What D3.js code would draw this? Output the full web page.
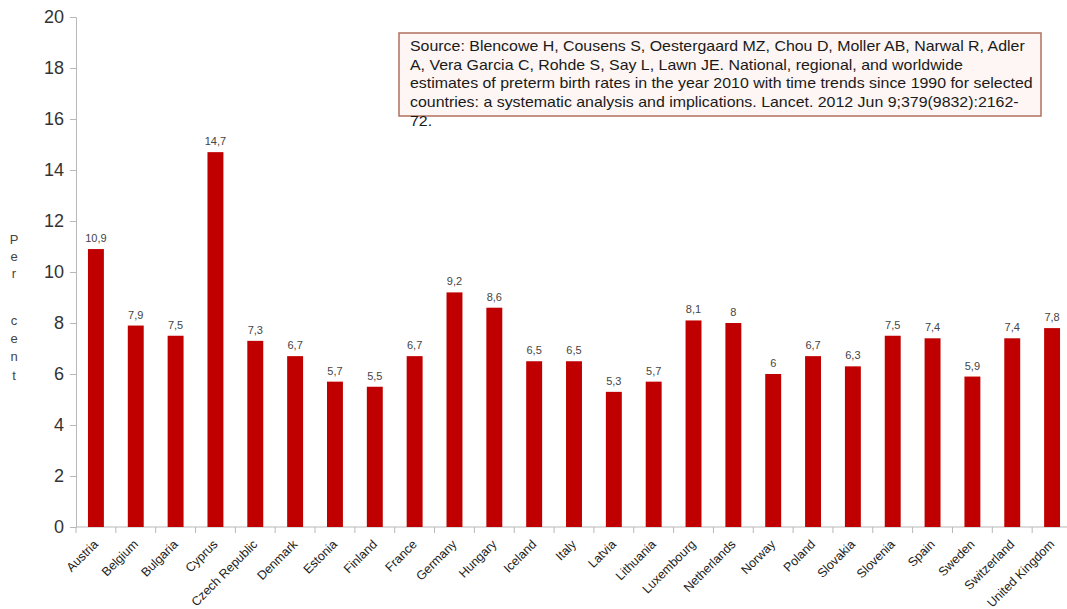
<!DOCTYPE html>
<html>
<head>
<meta charset="utf-8">
<script src="https://cdn.jsdelivr.net/npm/d3@7"></script>
<style>
  html, body { margin: 0; padding: 0; background: #fff; }
  svg { display: block; font-family: "Liberation Sans", Arial, sans-serif; }
</style>
</head>
<body>
<svg id="chart" width="1067" height="609"></svg>
<script>
const countries = ["Austria","Belgium","Bulgaria","Cyprus","Czech Republic","Denmark","Estonia","Finland","France","Germany","Hungary","Iceland","Italy","Latvia","Lithuania","Luxembourg","Netherlands","Norway","Poland","Slovakia","Slovenia","Spain","Sweden","Switzerland","United Kingdom"];
const rates = [10.9,7.9,7.5,14.7,7.3,6.7,5.7,5.5,6.7,9.2,8.6,6.5,6.5,5.3,5.7,8.1,8,6,6.7,6.3,7.5,7.4,5.9,7.4,7.8];
const yTicks = [0,2,4,6,8,10,12,14,16,18,20];
const yLabelLetters = ["P","e","r","","c","e","n","t"];
const sourceLines = [
  "Source: Blencowe H, Cousens S, Oestergaard MZ, Chou D, Moller AB, Narwal R, Adler",
  "A, Vera Garcia C, Rohde S, Say L, Lawn JE. National, regional, and worldwide",
  "estimates of preterm birth rates in the year 2010 with time trends since 1990 for selected",
  "countries: a systematic analysis and implications. Lancet. 2012 Jun 9;379(9832):2162-",
  "72."
];

(function () {
const svg = d3.select("#chart");
const pL = 76, pR = 1072, pT = 17, pB = 527;

const x = d3.scaleBand().domain(countries).range([pL, pR]).paddingInner(0.6).paddingOuter(0.3);
const y = d3.scaleLinear().domain([0, 20]).range([pB, pT]);
const axisColor = "#b8b8b8";

// Y axis
const yAxis = svg.append("g").attr("transform", `translate(${pL},0)`)
  .call(d3.axisLeft(y).tickValues(yTicks).tickSize(6).tickPadding(6).tickFormat(d3.format("d")));
yAxis.select(".domain").attr("stroke", axisColor);
yAxis.selectAll(".tick line").attr("stroke", axisColor);
yAxis.selectAll(".tick text").attr("fill", "#333").attr("font-size", 18)
  .attr("font-family", "'Liberation Sans', Arial, sans-serif");

// X axis line
svg.append("line").attr("x1", pL).attr("x2", pR).attr("y1", pB).attr("y2", pB)
  .attr("stroke", axisColor);
// X ticks at band boundaries
const boundaries = d3.range(countries.length + 1).map(i => pL + i * (pR - pL) / countries.length);
svg.append("g").selectAll("line").data(boundaries).join("line")
  .attr("x1", d => d).attr("x2", d => d).attr("y1", pB).attr("y2", pB + 6)
  .attr("stroke", axisColor);

// Bars
svg.append("g").selectAll("rect").data(countries).join("rect")
  .attr("x", d => x(d))
  .attr("width", x.bandwidth())
  .attr("y", (d, i) => y(rates[i]))
  .attr("height", (d, i) => y(0) - y(rates[i]))
  .attr("fill", "#c00000");

// Value labels
const fmt = v => String(v).replace(".", ",");
svg.append("g").selectAll("text").data(countries).join("text")
  .attr("x", d => x(d) + x.bandwidth() / 2)
  .attr("y", (d, i) => y(rates[i]) - 7)
  .attr("text-anchor", "middle")
  .attr("font-size", 11)
  .attr("fill", "#444")
  .text((d, i) => fmt(rates[i]));

// X labels
svg.append("g").selectAll("text").data(countries).join("text")
  .attr("transform", d => `translate(${x(d) + x.bandwidth() / 2 + 3},${pB + 18}) rotate(-45)`)
  .attr("text-anchor", "end")
  .attr("font-size", 12.5)
  .attr("fill", "#222")
  .text(d => d);

// Y axis label (stacked letters)
const letterY = [241, 258, 275, 0, 322, 340, 358, 377];
svg.append("g").selectAll("text").data(yLabelLetters).join("text")
  .attr("x", 14)
  .attr("y", (d, i) => letterY[i])
  .attr("text-anchor", "middle")
  .attr("dominant-baseline", "middle")
  .attr("font-size", 13)
  .attr("fill", "#444")
  .text(d => d);

// Source box
svg.append("rect").attr("x", 399).attr("y", 33).attr("width", 642).attr("height", 83)
  .attr("fill", "#fdf6f4").attr("stroke", "#b0705e").attr("stroke-width", 1.5);
const srcG = svg.append("g");
const srcT = srcG.selectAll("text").data(sourceLines).join("text")
  .attr("x", 0)
  .attr("y", (d, i) => 51 + i * 18.7)
  .attr("font-size", 14)
  .attr("fill", "#1a1a1a")
  .text(d => d);
const w0 = srcT.node().getComputedTextLength();
const k = 615 / w0;
srcG.attr("transform", `translate(410,0) scale(${k},1)`);
})();
</script>
</body>
</html>
